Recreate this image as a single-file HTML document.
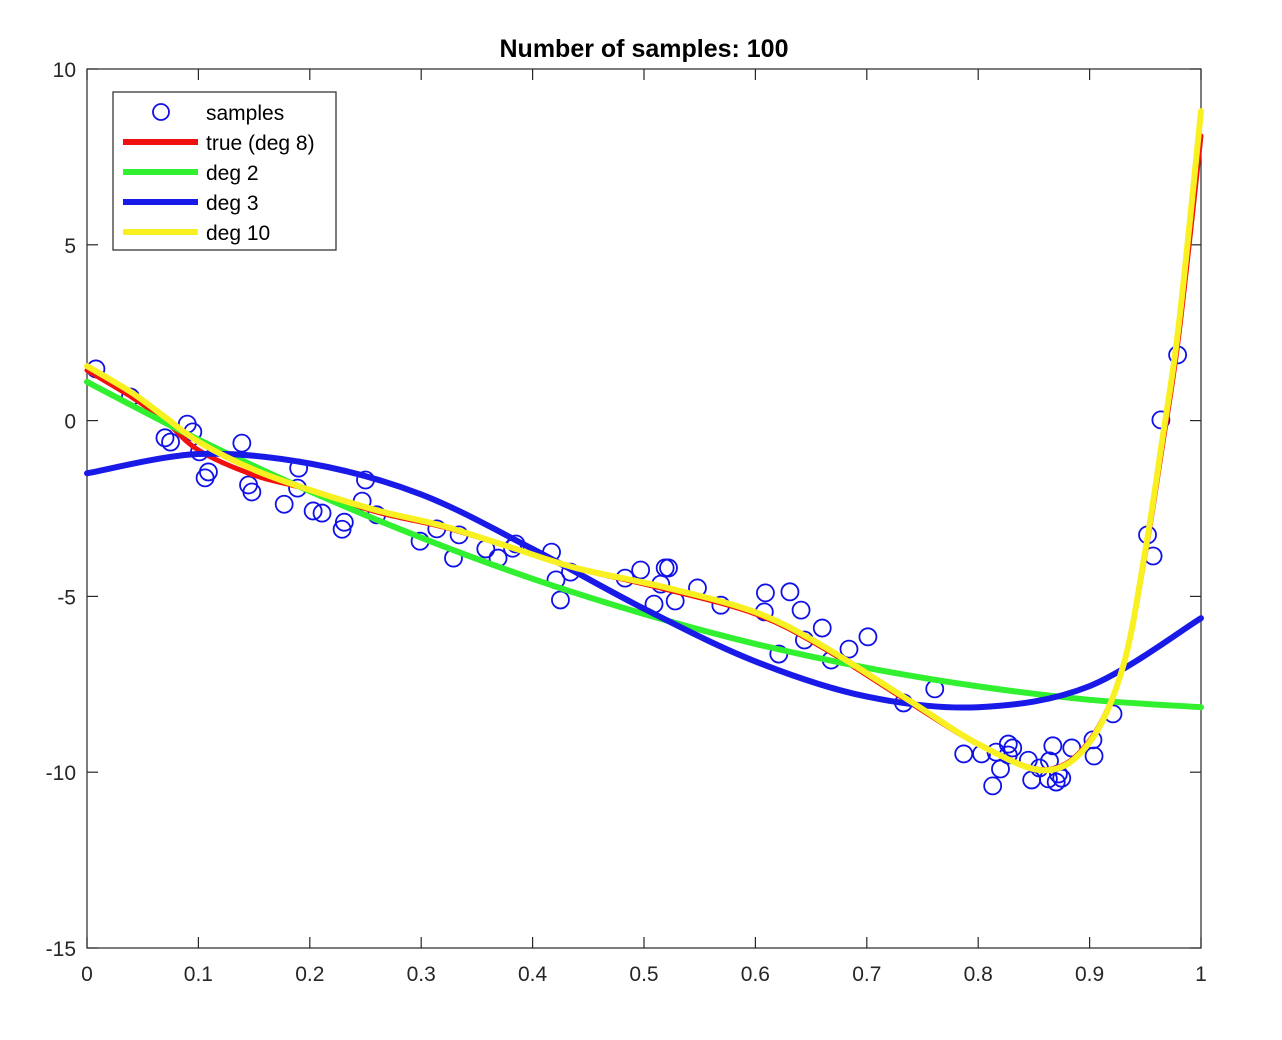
<!DOCTYPE html>
<html><head><meta charset="utf-8"><style>
html,body{margin:0;padding:0;background:#fff;}
svg{display:block;font-family:"Liberation Sans",Arial,sans-serif;}
</style></head><body>
<svg id="chart" width="1282" height="1040" viewBox="0 0 1282 1040" xmlns="http://www.w3.org/2000/svg">
<rect x="0" y="0" width="1282" height="1040" fill="#fff"/>
<text x="644" y="57" text-anchor="middle" font-size="25" font-weight="bold" fill="#000">Number of samples: 100</text>
<g id="axes"></g>
<g id="plot"></g>
<g id="legend"></g>
</svg>
<script>
const xTicks = [0,0.1,0.2,0.3,0.4,0.5,0.6,0.7,0.8,0.9,1];
const xTickLabels = ["0","0.1","0.2","0.3","0.4","0.5","0.6","0.7","0.8","0.9","1"];
const yTicks = [-15,-10,-5,0,5,10];
const yTickLabels = ["-15","-10","-5","0","5","10"];

const sampleX = [.008,.039,.070,.075,.090,.095,.101,.106,.109,.139,.145,.148,.177,.189,.190,.203,.211,.229,.231,.247,.250,.260,.299,.314,.329,.334,.358,.369,.382,.385,.417,.421,.425,.434,.483,.497,.509,.515,.519,.522,.528,.548,.569,.608,.609,.621,.631,.641,.644,.660,.668,.684,.701,.733,.761,.787,.803,.813,.816,.820,.827,.827,.831,.845,.848,.855,.863,.864,.867,.870,.872,.875,.884,.903,.904,.921,.952,.957,.964,.979];
const sampleY = [1.47,.67,-.49,-.61,-.10,-.32,-.89,-1.63,-1.46,-.64,-1.83,-2.03,-2.38,-1.92,-1.35,-2.57,-2.63,-3.09,-2.89,-2.29,-1.69,-2.68,-3.43,-3.08,-3.91,-3.25,-3.65,-3.91,-3.63,-3.51,-3.74,-4.53,-5.10,-4.31,-4.48,-4.25,-5.22,-4.65,-4.19,-4.19,-5.13,-4.76,-5.25,-5.44,-4.90,-6.64,-4.87,-5.39,-6.24,-5.90,-6.81,-6.50,-6.15,-8.03,-7.63,-9.48,-9.48,-10.39,-9.43,-9.91,-9.20,-9.51,-9.31,-9.66,-10.22,-9.88,-10.19,-9.68,-9.25,-10.28,-10.05,-10.17,-9.31,-9.08,-9.54,-8.34,-3.25,-3.85,0.02,1.87];

const trueX = [0,.04,.07,.1,.15,.2,.26,.32,.38,.44,.52,.6,.66,.74,.8,.86,.9,.93,.95,.965,.98,1];
const trueY = [1.43,.67,0,-.84,-1.55,-1.97,-2.6,-3.03,-3.6,-4.2,-4.8,-5.5,-6.45,-8.05,-9.2,-9.93,-9.1,-7.0,-3.8,-0.8,2.4,8.1];
const deg2X = [0,.1,.2,.3,.4,.5,.6,.7,.8,.9,1];
const deg2Y = [1.1,-0.54,-2.01,-3.33,-4.5,-5.5,-6.35,-7.03,-7.56,-7.94,-8.15];
const deg3X = [0,.1,.2,.3,.4,.5,.6,.7,.8,.9,1];
const deg3Y = [-1.5,-0.95,-1.22,-2.1,-3.65,-5.35,-6.85,-7.85,-8.15,-7.55,-5.62];
const deg10X = [0,.04,.07,.1,.15,.2,.26,.32,.38,.44,.52,.6,.66,.74,.8,.86,.9,.93,.95,.965,.98,1];
const deg10Y = [1.55,0.8,0.1,-0.6,-1.4,-1.97,-2.55,-3.0,-3.6,-4.2,-4.75,-5.45,-6.4,-8.0,-9.2,-9.95,-9.15,-7.0,-3.7,-0.6,2.7,8.8];

const X0=87, X1=1201, Y0=948, Y1=69;
function sx(v){return X0+(v-0)/(1-0)*(X1-X0);}
function sy(v){return Y0-(v-(-15))/(10-(-15))*(Y0-Y1);}
const NS="http://www.w3.org/2000/svg";
function mk(tag,attrs,parent){const e=document.createElementNS(NS,tag);for(const k in attrs)e.setAttribute(k,attrs[k]);parent.appendChild(e);return e;}

const axes=document.getElementById('axes');
const plot=document.getElementById('plot');
const legend=document.getElementById('legend');
const box=mk('rect',{x:X0,y:Y1,width:X1-X0,height:Y0-Y1,fill:'none',stroke:'#262626','stroke-width':1.2},axes);


xTicks.forEach((t,i)=>{
  const x=sx(t);
  const a=mk('line',{x1:x,x2:x,y1:Y0,y2:Y0-11,stroke:'#262626','stroke-width':1.2},axes);
  
  
  const b=mk('line',{x1:x,x2:x,y1:Y1,y2:Y1+11,stroke:'#262626','stroke-width':1.2},axes);
  
  
  const l=mk('text',{x:x,y:Y0+33,'text-anchor':'middle','font-size':21,fill:'#262626'},axes);
  l.textContent=xTickLabels[i];
  
  
});
yTicks.forEach((t,i)=>{
  const y=sy(t);
  const a=mk('line',{x1:X0,x2:X0+11,y1:y,y2:y,stroke:'#262626','stroke-width':1.2},axes);
  
  
  const b=mk('line',{x1:X1,x2:X1-11,y1:y,y2:y,stroke:'#262626','stroke-width':1.2},axes);
  
  
  const l=mk('text',{x:X0-11,y:y+8,'text-anchor':'end','font-size':21,fill:'#262626'},axes);
  l.textContent=yTickLabels[i];
  
  
});

sampleX.forEach((v,i)=>{
  const c=mk('circle',{cx:sx(v),cy:sy(sampleY[i]),r:8.5,fill:'none',stroke:'#1010e8','stroke-width':1.8},plot);
  
  
});

function pathFrom(xs,ys){
  const p=xs.map((v,i)=>[sx(v),sy(ys[i])]);
  let d='M'+p[0][0].toFixed(1)+','+p[0][1].toFixed(1);
  for(let i=0;i<p.length-1;i++){
    const p0=p[i-1]||p[i],p1=p[i],p2=p[i+1],p3=p[i+2]||p[i+1];
    const c1=[p1[0]+(p2[0]-p0[0])/6,p1[1]+(p2[1]-p0[1])/6];
    const c2=[p2[0]-(p3[0]-p1[0])/6,p2[1]-(p3[1]-p1[1])/6];
    d+='C'+c1[0].toFixed(1)+','+c1[1].toFixed(1)+' '+c2[0].toFixed(1)+','+c2[1].toFixed(1)+' '+p2[0].toFixed(1)+','+p2[1].toFixed(1);
  }
  return d;
}
const series=[
  {xs:trueX,ys:trueY,color:'#f01010',w:5,name:'true-curve'},
  {xs:deg2X,ys:deg2Y,color:'#30f030',w:6,name:'deg2-curve'},
  {xs:deg3X,ys:deg3Y,color:'#1a1ae8',w:6,name:'deg3-curve'},
  {xs:deg10X,ys:deg10Y,color:'#f8f020',w:6,name:'deg10-curve'}
];
series.forEach(s=>{
  const e=mk('path',{d:pathFrom(s.xs,s.ys),fill:'none',stroke:s.color,'stroke-width':s.w,'stroke-linecap':'round','stroke-linejoin':'round'},plot);
  
  
});

const lb=mk('rect',{x:113,y:92,width:223,height:158,fill:'#fff',stroke:'#262626','stroke-width':1.2},legend);


const lc=mk('circle',{cx:161,cy:112,r:8,fill:'none',stroke:'#1010e8','stroke-width':1.8},legend);


const lt0=mk('text',{x:206,y:120,'font-size':21,fill:'#000'},legend);
lt0.textContent='samples';


const legLabels=['true (deg 8)','deg 2','deg 3','deg 10'];
const legColors=['#f01010','#30f030','#1a1ae8','#f8f020'];
legLabels.forEach((t,i)=>{
  const y=142+i*30;
  const ln=mk('line',{x1:123,x2:198,y1:y,y2:y,stroke:legColors[i],'stroke-width':6},legend);
  
  
  const tx=mk('text',{x:206,y:y+8,'font-size':21,fill:'#000'},legend);
  tx.textContent=t;
  
  
});
</script>
</body></html>
